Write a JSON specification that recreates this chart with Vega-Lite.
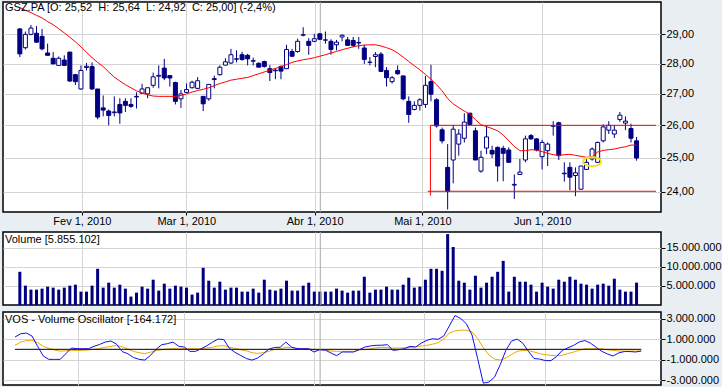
{
"$schema": "https://vega.github.io/schema/vega-lite/v6.json",
"background": "#E9EEF2",
"padding": {"left": 2, "top": 0, "right": 0, "bottom": 0},
"spacing": 3,
"config": {
  "view": {"fill": "white", "stroke": "black", "strokeWidth": 1.5},
  "axis": {"labelFont": "Liberation Sans", "labelFontSize": 11, "labelColor": "black", "tickColor": "black", "gridColor": "#D4D4D4", "domain": false, "title": null, "labelOverlap": false},
  "title": {"anchor": "start", "frame": "group", "offset": -13, "baseline": "top", "fontSize": 11, "font": "Liberation Sans", "fontWeight": "normal", "color": "black", "dx": 2}
},
"datasets": {
"d": [
{"i":0,"o":29.19,"h":29.22,"l":28.22,"c":28.33,"v":8690000,"vos":1200000,"sig":390000,"sma":29.95},
{"i":1,"o":28.54,"h":29.1,"l":28.48,"c":29.0,"v":5060000,"vos":1520000,"sig":710000,"sma":29.85},
{"i":2,"o":29.0,"h":29.33,"l":28.97,"c":29.22,"v":4020000,"vos":1590000,"sig":850000,"sma":29.77},
{"i":3,"o":29.04,"h":29.29,"l":28.71,"c":28.73,"v":4020000,"vos":1300000,"sig":880000,"sma":29.67},
{"i":4,"o":28.93,"h":29.19,"l":28.45,"c":28.5,"v":4280000,"vos":300000,"sig":650000,"sma":29.58},
{"i":5,"o":28.36,"h":28.68,"l":28.28,"c":28.28,"v":4800000,"vos":-650000,"sig":300000,"sma":29.45},
{"i":6,"o":28.18,"h":28.39,"l":27.99,"c":27.99,"v":4540000,"vos":-980000,"sig":100000,"sma":29.34},
{"i":7,"o":27.94,"h":28.24,"l":27.94,"c":28.18,"v":4020000,"vos":-980000,"sig":-80000,"sma":29.2},
{"i":8,"o":28.12,"h":28.28,"l":27.94,"c":27.94,"v":4540000,"vos":-980000,"sig":-170000,"sma":29.05},
{"i":9,"o":28.39,"h":28.39,"l":27.4,"c":27.42,"v":5060000,"vos":-430000,"sig":-150000,"sma":28.9},
{"i":10,"o":27.63,"h":27.66,"l":27.29,"c":27.4,"v":5320000,"vos":130000,"sig":-100000,"sma":28.74},
{"i":11,"o":27.16,"h":27.94,"l":27.13,"c":27.77,"v":3500000,"vos":60000,"sig":-100000,"sma":28.57},
{"i":12,"o":27.87,"h":28.02,"l":27.77,"c":27.91,"v":3500000,"vos":60000,"sig":-100000,"sma":28.38},
{"i":13,"o":27.9,"h":28.04,"l":27.13,"c":27.16,"v":5060000,"vos":60000,"sig":-60000,"sma":28.2},
{"i":14,"o":27.16,"h":27.16,"l":26.19,"c":26.26,"v":9470000,"vos":290000,"sig":0,"sma":28.04},
{"i":15,"o":26.55,"h":26.95,"l":26.28,"c":26.48,"v":4540000,"vos":480000,"sig":80000,"sma":27.9},
{"i":16,"o":26.45,"h":26.5,"l":26.0,"c":26.31,"v":5840000,"vos":710000,"sig":200000,"sma":27.72},
{"i":17,"o":26.4,"h":26.92,"l":26.28,"c":26.42,"v":4540000,"vos":810000,"sig":290000,"sma":27.55},
{"i":18,"o":26.66,"h":26.86,"l":26.05,"c":26.39,"v":5320000,"vos":500000,"sig":370000,"sma":27.42},
{"i":19,"o":26.76,"h":26.86,"l":26.42,"c":26.63,"v":4280000,"vos":-220000,"sig":250000,"sma":27.3},
{"i":20,"o":26.66,"h":26.86,"l":26.55,"c":26.6,"v":2210000,"vos":-430000,"sig":30000,"sma":27.2},
{"i":21,"o":26.9,"h":27.05,"l":26.53,"c":26.92,"v":3240000,"vos":-800000,"sig":-200000,"sma":27.1},
{"i":22,"o":27.02,"h":27.33,"l":27.0,"c":27.16,"v":4800000,"vos":-980000,"sig":-330000,"sma":27.03},
{"i":23,"o":27.0,"h":27.2,"l":26.86,"c":27.2,"v":4280000,"vos":-1050000,"sig":-420000,"sma":26.97},
{"i":24,"o":27.28,"h":27.7,"l":27.2,"c":27.56,"v":6620000,"vos":-600000,"sig":-280000,"sma":26.93},
{"i":25,"o":27.58,"h":27.94,"l":27.18,"c":27.61,"v":3760000,"vos":0,"sig":-120000,"sma":26.92},
{"i":26,"o":27.85,"h":28.16,"l":27.45,"c":27.52,"v":5580000,"vos":450000,"sig":-40000,"sma":26.92},
{"i":27,"o":27.6,"h":27.62,"l":27.24,"c":27.52,"v":4280000,"vos":550000,"sig":30000,"sma":26.92},
{"i":28,"o":27.37,"h":27.4,"l":26.66,"c":26.76,"v":5060000,"vos":710000,"sig":60000,"sma":26.92},
{"i":29,"o":26.84,"h":27.13,"l":26.55,"c":27.0,"v":4800000,"vos":300000,"sig":60000,"sma":26.95},
{"i":30,"o":27.05,"h":27.34,"l":27.03,"c":27.14,"v":4540000,"vos":220000,"sig":60000,"sma":27.0},
{"i":31,"o":27.2,"h":27.43,"l":27.18,"c":27.38,"v":2720000,"vos":-200000,"sig":60000,"sma":27.06},
{"i":32,"o":27.18,"h":27.55,"l":27.15,"c":27.43,"v":3240000,"vos":-200000,"sig":60000,"sma":27.11},
{"i":33,"o":26.92,"h":26.92,"l":26.45,"c":26.68,"v":9730000,"vos":60000,"sig":60000,"sma":27.15},
{"i":34,"o":26.84,"h":27.31,"l":26.78,"c":27.31,"v":6360000,"vos":350000,"sig":120000,"sma":27.2},
{"i":35,"o":27.47,"h":27.6,"l":27.18,"c":27.5,"v":4540000,"vos":700000,"sig":200000,"sma":27.27},
{"i":36,"o":27.63,"h":27.94,"l":27.6,"c":27.88,"v":6100000,"vos":1000000,"sig":330000,"sma":27.34},
{"i":37,"o":27.95,"h":28.18,"l":27.94,"c":28.06,"v":4020000,"vos":950000,"sig":350000,"sma":27.39},
{"i":38,"o":28.02,"h":28.5,"l":27.99,"c":28.3,"v":4540000,"vos":100000,"sig":200000,"sma":27.45},
{"i":39,"o":28.16,"h":28.45,"l":28.04,"c":28.15,"v":4540000,"vos":-300000,"sig":100000,"sma":27.48},
{"i":40,"o":28.3,"h":28.4,"l":28.1,"c":28.14,"v":3500000,"vos":-600000,"sig":-40000,"sma":27.51},
{"i":41,"o":28.28,"h":28.33,"l":27.94,"c":28.16,"v":3500000,"vos":-900000,"sig":-140000,"sma":27.54},
{"i":42,"o":28.08,"h":28.2,"l":27.94,"c":28.1,"v":4280000,"vos":-1050000,"sig":-330000,"sma":27.6},
{"i":43,"o":28.01,"h":28.04,"l":27.88,"c":27.88,"v":3240000,"vos":-850000,"sig":-400000,"sma":27.66},
{"i":44,"o":28.07,"h":28.1,"l":27.87,"c":27.9,"v":6620000,"vos":-450000,"sig":-320000,"sma":27.72},
{"i":45,"o":27.83,"h":27.95,"l":27.42,"c":27.7,"v":4020000,"vos":20000,"sig":-200000,"sma":27.78},
{"i":46,"o":27.76,"h":27.85,"l":27.48,"c":27.78,"v":3760000,"vos":180000,"sig":-20000,"sma":27.84},
{"i":47,"o":27.9,"h":27.94,"l":27.48,"c":27.75,"v":4280000,"vos":200000,"sig":50000,"sma":27.9},
{"i":48,"o":27.83,"h":28.64,"l":27.83,"c":28.48,"v":6360000,"vos":710000,"sig":200000,"sma":27.97},
{"i":49,"o":28.41,"h":28.5,"l":28.22,"c":28.25,"v":3760000,"vos":220000,"sig":180000,"sma":28.04},
{"i":50,"o":28.41,"h":28.85,"l":28.37,"c":28.76,"v":3760000,"vos":60000,"sig":100000,"sma":28.09},
{"i":51,"o":28.97,"h":29.25,"l":28.93,"c":28.99,"v":5060000,"vos":60000,"sig":60000,"sma":28.13},
{"i":52,"o":28.76,"h":28.87,"l":28.3,"c":28.62,"v":5840000,"vos":60000,"sig":60000,"sma":28.16},
{"i":53,"o":28.76,"h":29.02,"l":28.73,"c":28.85,"v":3500000,"vos":-260000,"sig":-40000,"sma":28.2},
{"i":54,"o":29.02,"h":29.05,"l":28.8,"c":28.83,"v":3500000,"vos":-40000,"sig":-40000,"sma":28.25},
{"i":55,"o":28.8,"h":29.1,"l":28.68,"c":28.81,"v":3500000,"vos":-80000,"sig":-80000,"sma":28.3},
{"i":56,"o":28.76,"h":28.83,"l":28.3,"c":28.48,"v":3500000,"vos":-360000,"sig":-160000,"sma":28.36},
{"i":57,"o":28.64,"h":28.81,"l":28.45,"c":28.73,"v":4280000,"vos":-620000,"sig":-200000,"sma":28.41},
{"i":58,"o":28.91,"h":29.0,"l":28.76,"c":28.97,"v":3760000,"vos":-260000,"sig":-200000,"sma":28.47},
{"i":59,"o":28.81,"h":28.91,"l":28.62,"c":28.62,"v":3240000,"vos":-260000,"sig":-200000,"sma":28.52},
{"i":60,"o":28.79,"h":28.91,"l":28.56,"c":28.62,"v":3760000,"vos":-260000,"sig":-200000,"sma":28.57},
{"i":61,"o":28.7,"h":28.91,"l":28.5,"c":28.72,"v":3760000,"vos":-40000,"sig":-60000,"sma":28.61},
{"i":62,"o":28.53,"h":28.64,"l":27.99,"c":28.14,"v":7400000,"vos":220000,"sig":-40000,"sma":28.63},
{"i":63,"o":28.04,"h":28.22,"l":27.94,"c":28.05,"v":3240000,"vos":330000,"sig":50000,"sma":28.64},
{"i":64,"o":28.24,"h":28.39,"l":27.88,"c":28.3,"v":4020000,"vos":390000,"sig":150000,"sma":28.64},
{"i":65,"o":28.32,"h":28.39,"l":27.72,"c":27.74,"v":4020000,"vos":400000,"sig":200000,"sma":28.6},
{"i":66,"o":27.77,"h":27.88,"l":27.24,"c":27.53,"v":4800000,"vos":450000,"sig":170000,"sma":28.54},
{"i":67,"o":27.4,"h":27.59,"l":27.34,"c":27.53,"v":4020000,"vos":-100000,"sig":120000,"sma":28.47},
{"i":68,"o":27.77,"h":27.94,"l":27.63,"c":27.66,"v":4020000,"vos":-40000,"sig":130000,"sma":28.36},
{"i":69,"o":27.59,"h":27.59,"l":26.79,"c":26.84,"v":5320000,"vos":60000,"sig":150000,"sma":28.22},
{"i":70,"o":26.76,"h":26.92,"l":26.08,"c":26.34,"v":7140000,"vos":290000,"sig":180000,"sma":28.07},
{"i":71,"o":26.5,"h":26.76,"l":26.47,"c":26.63,"v":4540000,"vos":220000,"sig":250000,"sma":27.93},
{"i":72,"o":26.63,"h":26.86,"l":26.47,"c":26.81,"v":4800000,"vos":600000,"sig":320000,"sma":27.79},
{"i":73,"o":26.66,"h":27.59,"l":26.55,"c":27.28,"v":6620000,"vos":880000,"sig":390000,"sma":27.64},
{"i":74,"o":27.4,"h":27.96,"l":26.76,"c":26.99,"v":9470000,"vos":1030000,"sig":500000,"sma":27.48},
{"i":75,"o":26.81,"h":26.86,"l":25.93,"c":25.98,"v":9470000,"vos":980000,"sig":650000,"sma":27.3},
{"i":76,"o":25.86,"h":25.93,"l":25.44,"c":25.52,"v":8950000,"vos":1300000,"sig":1000000,"sma":27.1},
{"i":77,"o":24.72,"h":25.42,"l":23.5,"c":24.02,"v":18550000,"vos":2300000,"sig":1600000,"sma":26.85},
{"i":78,"o":24.94,"h":26.01,"l":24.25,"c":25.88,"v":15180000,"vos":3300000,"sig":1800000,"sma":26.68},
{"i":79,"o":25.42,"h":25.88,"l":25.07,"c":25.73,"v":6360000,"vos":3000000,"sig":1870000,"sma":26.56},
{"i":80,"o":25.6,"h":26.38,"l":25.47,"c":26.1,"v":5840000,"vos":2500000,"sig":1870000,"sma":26.45},
{"i":81,"o":26.38,"h":26.4,"l":26.0,"c":26.03,"v":4020000,"vos":1400000,"sig":1700000,"sma":26.35},
{"i":82,"o":25.83,"h":25.93,"l":24.94,"c":24.94,"v":7660000,"vos":-900000,"sig":1050000,"sma":26.18},
{"i":83,"o":24.61,"h":25.22,"l":24.56,"c":25.02,"v":4540000,"vos":-3300000,"sig":150000,"sma":26.02},
{"i":84,"o":25.3,"h":25.98,"l":25.12,"c":25.64,"v":5840000,"vos":-3190000,"sig":-550000,"sma":25.96},
{"i":85,"o":25.23,"h":25.37,"l":25.0,"c":25.12,"v":7400000,"vos":-2700000,"sig":-950000,"sma":25.9},
{"i":86,"o":25.32,"h":25.35,"l":24.3,"c":24.76,"v":8690000,"vos":-1500000,"sig":-1050000,"sma":25.83},
{"i":87,"o":25.29,"h":25.37,"l":24.31,"c":25.14,"v":11550000,"vos":-100000,"sig":-850000,"sma":25.7},
{"i":88,"o":25.24,"h":25.32,"l":24.87,"c":24.87,"v":3500000,"vos":800000,"sig":-500000,"sma":25.52},
{"i":89,"o":24.2,"h":24.51,"l":23.8,"c":24.22,"v":7400000,"vos":1000000,"sig":-200000,"sma":25.35},
{"i":90,"o":24.51,"h":24.97,"l":24.51,"c":24.58,"v":6100000,"vos":600000,"sig":-100000,"sma":25.22},
{"i":91,"o":24.94,"h":25.68,"l":24.87,"c":25.58,"v":6100000,"vos":-200000,"sig":-120000,"sma":25.22},
{"i":92,"o":25.68,"h":25.73,"l":25.55,"c":25.58,"v":5320000,"vos":-900000,"sig":-260000,"sma":25.25},
{"i":93,"o":25.58,"h":25.6,"l":25.2,"c":25.24,"v":3500000,"vos":-950000,"sig":-420000,"sma":25.24},
{"i":94,"o":25.04,"h":25.55,"l":24.66,"c":25.47,"v":5840000,"vos":-1100000,"sig":-520000,"sma":25.19},
{"i":95,"o":25.22,"h":25.47,"l":24.76,"c":25.42,"v":4800000,"vos":-1100000,"sig":-590000,"sma":25.14},
{"i":96,"o":25.97,"h":26.13,"l":25.68,"c":25.99,"v":4280000,"vos":-700000,"sig":-630000,"sma":25.1},
{"i":97,"o":26.08,"h":26.11,"l":24.94,"c":25.07,"v":6620000,"vos":-100000,"sig":-580000,"sma":25.08},
{"i":98,"o":24.53,"h":24.87,"l":24.3,"c":24.55,"v":6100000,"vos":150000,"sig":-420000,"sma":25.1},
{"i":99,"o":24.72,"h":24.87,"l":24.05,"c":24.43,"v":7400000,"vos":380000,"sig":-260000,"sma":25.11},
{"i":100,"o":24.48,"h":24.72,"l":23.88,"c":24.56,"v":6620000,"vos":710000,"sig":-100000,"sma":25.08},
{"i":101,"o":24.08,"h":24.76,"l":24.08,"c":24.76,"v":5580000,"vos":860000,"sig":60000,"sma":25.05},
{"i":102,"o":24.66,"h":24.97,"l":24.66,"c":24.87,"v":5320000,"vos":600000,"sig":60000,"sma":25.02},
{"i":103,"o":24.97,"h":25.32,"l":24.92,"c":25.27,"v":4280000,"vos":200000,"sig":60000,"sma":25.04},
{"i":104,"o":24.87,"h":25.5,"l":24.85,"c":25.47,"v":5320000,"vos":-200000,"sig":60000,"sma":25.18},
{"i":105,"o":25.52,"h":26.03,"l":25.47,"c":25.95,"v":5580000,"vos":-450000,"sig":-50000,"sma":25.23},
{"i":106,"o":25.85,"h":26.13,"l":25.73,"c":26.0,"v":5060000,"vos":-650000,"sig":-100000,"sma":25.25},
{"i":107,"o":25.73,"h":26.01,"l":25.61,"c":25.85,"v":6880000,"vos":-350000,"sig":-160000,"sma":25.27},
{"i":108,"o":26.18,"h":26.42,"l":26.11,"c":26.32,"v":4020000,"vos":-220000,"sig":-170000,"sma":25.31},
{"i":109,"o":26.07,"h":26.28,"l":25.85,"c":26.13,"v":3500000,"vos":-220000,"sig":-170000,"sma":25.34},
{"i":110,"o":25.9,"h":26.05,"l":25.47,"c":25.6,"v":3500000,"vos":-260000,"sig":-170000,"sma":25.39},
{"i":111,"o":25.52,"h":25.64,"l":24.92,"c":25.0,"v":5855102,"vos":-164172,"sig":-170000,"sma":25.39}
],
"red": [
{"x1":73.9,"x2":114.5,"p1":26.0,"p2":26.0},
{"x1":73.4,"x2":114.5,"p1":24.02,"p2":24.02},
{"x1":73.9,"x2":73.9,"p1":26.0,"p2":23.9}
],
"mark": [{"i":103.0,"p":24.89}],
"cross": [{"i":54.08}],
"zero": [{"a":0,"b":111,"z":0}]
},
"vconcat": [
{
  "width": 658, "height": 210,
  "title": {"text": "GSZ.PA [O: 25,52 \u00a0H: 25,64 \u00a0L: 24,92 \u00a0C: 25,00] (-2,4%)", "offset": -11},
  "layer": [
    {"data": {"name": "d"},
     "mark": {"type": "rule", "color": "#000080", "strokeWidth": 1},
     "encoding": {
       "x": {"field": "i", "type": "quantitative", "scale": {"domain": [-2.13, 114.5], "nice": false, "zero": false},
             "axis": {"values": [11.17, 29.96, 53.07, 72.46, 94.02], "tickCount": 20, "labelExpr": "datum.value < 20 ? 'Fev 1, 2010' : datum.value < 40 ? 'Mar 1, 2010' : datum.value < 60 ? 'Abr 1, 2010' : datum.value < 80 ? 'Mai 1, 2010' : 'Jun 1, 2010'", "tickSize": 3, "labelPadding": 0, "grid": true, "labelFlush": false, "labelOverlap": false}},
       "y": {"field": "l", "type": "quantitative", "scale": {"type": "log", "domain": [23.43, 30.15], "nice": false, "zero": false},
             "axis": {"orient": "right", "values": [24, 25, 26, 27, 28, 29], "tickCount": 20, "labelExpr": "replace(format(datum.value, '.2f'), '.', ',')", "tickSize": 4, "labelPadding": 1, "grid": true, "labelOverlap": false}},
       "y2": {"field": "h"}
     }},
    {"data": {"name": "cross"},
     "mark": {"type": "rule", "color": "#A8A8A8", "strokeWidth": 1},
     "encoding": {"x": {"field": "i", "type": "quantitative"}}},
    {"data": {"name": "d"},
     "mark": {"type": "bar", "width": 4, "stroke": "#000080", "strokeWidth": 1},
     "encoding": {
       "x": {"field": "i", "type": "quantitative"},
       "y": {"field": "o", "type": "quantitative"},
       "y2": {"field": "c"},
       "fill": {"condition": {"test": "datum.c < datum.o", "value": "#000080"}, "value": "white"}
     }},
    {"data": {"name": "d"},
     "mark": {"type": "line", "color": "#FF0000", "strokeWidth": 1},
     "encoding": {
       "x": {"field": "i", "type": "quantitative"},
       "y": {"field": "sma", "type": "quantitative"}
     }},
    {"data": {"name": "red"},
     "mark": {"type": "rule", "color": "#FF0000", "strokeWidth": 1},
     "encoding": {
       "x": {"field": "x1", "type": "quantitative"},
       "x2": {"field": "x2"},
       "y": {"field": "p1", "type": "quantitative"},
       "y2": {"field": "p2"}
     }},
    {"data": {"name": "mark"},
     "mark": {"type": "point", "shape": "M-1,0A1,0.5 0 1,0 1,0A1,0.5 0 1,0 -1,0Z", "size": 324, "filled": false, "stroke": "#F2E21C", "strokeWidth": 2, "opacity": 1},
     "encoding": {
       "x": {"field": "i", "type": "quantitative"},
       "y": {"field": "p", "type": "quantitative"}
     }}
  ]
},
{
  "width": 658, "height": 73,
  "title": {"text": "Volume [5.855.102]"},
  "layer": [
    {"data": {"name": "d"},
     "mark": {"type": "bar", "width": 3, "color": "#000080"},
     "encoding": {
       "x": {"field": "i", "type": "quantitative", "scale": {"domain": [-2.13, 114.5], "nice": false, "zero": false},
             "axis": {"values": [11.17, 29.96, 53.07, 72.46, 94.02], "tickCount": 20, "labels": false, "ticks": false, "grid": true}},
       "y": {"field": "v", "type": "quantitative", "scale": {"domain": [0, 19100000], "nice": false},
             "axis": {"orient": "right", "values": [5000000, 10000000, 15000000], "tickCount": 20, "labelExpr": "replace(format(datum.value, ','), regexp(',', 'g'), '.')", "tickSize": 4, "labelPadding": 1, "grid": true, "labelOverlap": false}}
     }},
    {"data": {"name": "cross"},
     "mark": {"type": "rule", "color": "#A8A8A8", "strokeWidth": 1},
     "encoding": {"x": {"field": "i", "type": "quantitative"}}}
  ]
},
{
  "width": 658, "height": 73,
  "title": {"text": "VOS - Volume Oscillator [-164.172]"},
  "layer": [
    {"data": {"name": "d"},
     "mark": {"type": "line", "color": "#F0A800", "strokeWidth": 1},
     "encoding": {
       "x": {"field": "i", "type": "quantitative", "scale": {"domain": [-2.13, 114.5], "nice": false, "zero": false},
             "axis": {"values": [11.17, 29.96, 53.07, 72.46, 94.02], "tickCount": 20, "labels": false, "ticks": false, "grid": true}},
       "y": {"field": "sig", "type": "quantitative", "scale": {"domain": [-3480000, 3640000], "nice": false, "zero": false},
             "axis": {"orient": "right", "values": [-3000000, -1000000, 1000000, 3000000], "tickCount": 20, "labelExpr": "datum.value > 2000000 ? '3.000.000' : datum.value > 0 ? '1.000.000' : datum.value > -2000000 ? '-1.000.000' : '-3.000.000'", "tickSize": 4, "labelPadding": 1, "grid": true, "labelOverlap": false}}
     }},
    {"data": {"name": "zero"},
     "mark": {"type": "rule", "color": "black", "strokeWidth": 1},
     "encoding": {
       "x": {"field": "a", "type": "quantitative"},
       "x2": {"field": "b"},
       "y": {"field": "z", "type": "quantitative"}
     }},
    {"data": {"name": "cross"},
     "mark": {"type": "rule", "color": "#A8A8A8", "strokeWidth": 1},
     "encoding": {"x": {"field": "i", "type": "quantitative"}}},
    {"data": {"name": "d"},
     "mark": {"type": "line", "color": "#1010E8", "strokeWidth": 1},
     "encoding": {
       "x": {"field": "i", "type": "quantitative"},
       "y": {"field": "vos", "type": "quantitative"}
     }}
  ]
}
]
}
